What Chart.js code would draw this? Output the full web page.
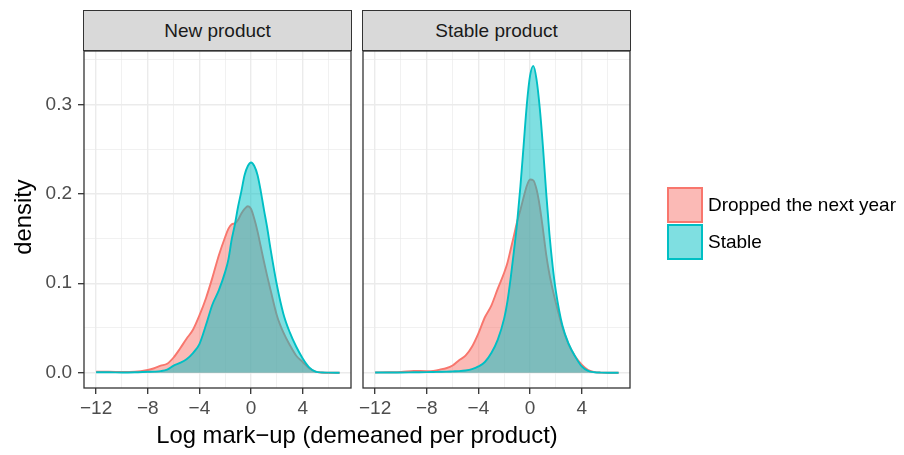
<!DOCTYPE html>
<html>
<head>
<meta charset="utf-8">
<script src="https://cdn.jsdelivr.net/npm/chart.js@4.4.1/dist/chart.umd.min.js"></script>
<style>
  body { margin:0; background:#fff; font-family:'Liberation Sans', Arial, sans-serif; }
  #wrap { position:relative; width:904px; height:455px; overflow:hidden; }
  canvas { position:absolute; left:0; top:0; }
  .strip { position:absolute; top:10px; height:41px; box-sizing:border-box; border:1.3px solid #333;
           background:#d9d9d9; color:#1a1a1a; font-size:19px; display:flex; align-items:center; justify-content:center; }
  .key { position:absolute; left:667px; width:36px; box-sizing:border-box; border:2px solid; }
  .ltxt { position:absolute; left:708px; font-size:19px; line-height:20px; color:#000; }
</style>
</head>
<body>
<div id="wrap">
  <canvas id="p1" width="904" height="455"></canvas>
  <canvas id="p2" width="904" height="455"></canvas>
  <div class="strip" style="left:83px;width:269px">New product</div>
  <div class="strip" style="left:362px;width:269px">Stable product</div>
  <div class="key" style="top:187px;height:36px;background:#fbbab6;border-color:#f8766d"></div>
  <div class="key" style="top:224px;height:36px;background:#7fdfe1;border-color:#00bfc4"></div>
  <div class="ltxt" style="top:195px">Dropped the next year</div>
  <div class="ltxt" style="top:232px">Stable</div>
  <div style="position:absolute;left:84px;width:546px;top:423px;text-align:center;font-size:23.8px;line-height:24px;color:#000">Log mark&minus;up (demeaned per product)</div>
  <div style="position:absolute;left:-27px;top:205px;width:100px;text-align:center;font-size:23.8px;line-height:24px;color:#000;transform:rotate(-90deg)">density</div>
</div>
<script>
Chart.defaults.font.family = "'Liberation Sans', Arial, sans-serif";

// categories / series
var groups = ['Dropped the next year', 'Stable'];
var tickLabelsX = [-12, -8, -4, 0, 4];
var tickLabelsY = [0.0, 0.1, 0.2, 0.3];

// New product panel
var newX = [-12, -11, -10, -9, -8, -7.5, -7, -6.5, -6, -5.5, -5, -4.5, -4, -3.5, -3, -2.5, -2, -1.75, -1.5, -1.25, -1,
  -0.75, -0.5, -0.25, 0, 0.25, 0.5, 0.75, 1, 1.25, 1.5, 2, 2.5, 3, 3.5, 4, 4.5, 5, 5.5, 6, 6.86];
var newDropped = [0.001, 0.001, 0.0008, 0.001, 0.003, 0.005, 0.0078, 0.010, 0.017, 0.027, 0.038, 0.048, 0.064, 0.083,
  0.106, 0.131, 0.152, 0.161, 0.166, 0.167, 0.171, 0.178, 0.183, 0.186, 0.183, 0.172, 0.158, 0.141, 0.124, 0.108,
  0.093, 0.064, 0.045, 0.031, 0.019, 0.012, 0.005, 0.0012, 0.0002, 0, 0];
var newStable = [0.0005, 0.0005, 0.0003, 0.0005, 0.001, 0.0012, 0.0018, 0.0035, 0.008, 0.011, 0.015, 0.022, 0.032,
  0.053, 0.076, 0.092, 0.113, 0.127, 0.149, 0.166, 0.186, 0.203, 0.221, 0.231, 0.235, 0.231, 0.221, 0.203, 0.182,
  0.162, 0.139, 0.098, 0.066, 0.045, 0.029, 0.016, 0.006, 0.0012, 0.0003, 0.0001, 0];

// Stable product panel
var stabX = [-12, -11, -10, -9, -8, -7.5, -7, -6.5, -6, -5.5, -5, -4.5, -4, -3.5, -3, -2.5, -2, -1.75, -1.5, -1.25, -1,
  -0.75, -0.5, -0.25, 0, 0.25, 0.5, 0.75, 1, 1.25, 1.5, 1.75, 2, 2.5, 3, 3.5, 4, 4.5, 5, 5.5, 6, 6.86];
var stabDropped = [0.0003, 0.0005, 0.0008, 0.002, 0.0018, 0.002, 0.0035, 0.005, 0.008, 0.014, 0.019, 0.029, 0.044,
  0.062, 0.075, 0.094, 0.112, 0.123, 0.138, 0.153, 0.169, 0.182, 0.196, 0.209, 0.216, 0.215, 0.205, 0.186, 0.16,
  0.132, 0.11, 0.093, 0.078, 0.051, 0.031, 0.018, 0.009, 0.003, 0.0006, 0.0001, 0, 0];
var stabStable = [0.0003, 0.0003, 0.0003, 0.0005, 0.0006, 0.0008, 0.001, 0.0012, 0.0015, 0.0018, 0.0025, 0.004, 0.007,
  0.012, 0.022, 0.037, 0.061, 0.08, 0.106, 0.136, 0.168, 0.208, 0.254, 0.3, 0.332, 0.343, 0.328, 0.296, 0.252,
  0.201, 0.155, 0.119, 0.091, 0.053, 0.032, 0.018, 0.007, 0.002, 0.0005, 0.0001, 0, 0];

var redLine = '#f8766d', redFill = 'rgba(248,118,109,0.5)';
var cyanLine = '#00bfc4', cyanFill = 'rgba(0,191,196,0.5)';

function pts(xs, ys) {
  return xs.map(function (x, i) { return { x: x, y: ys[i] }; });
}
function isMajorX(v) { return tickLabelsX.indexOf(v) >= 0; }
function isMajorY(v) { return tickLabelsY.some(function (t) { return Math.abs(t - v) < 1e-6; }); }

var panelBorder = {
  id: 'panelBorder',
  afterDraw: function (chart) {
    var a = chart.chartArea, c = chart.ctx;
    c.save();
    c.strokeStyle = '#333';
    c.lineWidth = 1.3;
    c.strokeRect(a.left, a.top, a.right - a.left, a.bottom - a.top);
    c.restore();
  }
};

function makePanel(id, xs, dropped, stable, yAxisWidth, rightPad, showY) {
  return new Chart(document.getElementById(id), {
    type: 'line',
    data: {
      datasets: [
        { label: groups[0], data: pts(xs, dropped), borderColor: redLine, backgroundColor: redFill,
          fill: 'origin', order: 2 },
        { label: groups[1], data: pts(xs, stable), borderColor: cyanLine, backgroundColor: cyanFill,
          fill: 'origin', order: 1 }
      ]
    },
    options: {
      responsive: false,
      animation: false,
      layout: { padding: { top: 51, right: rightPad, left: 0, bottom: 0 } },
      elements: {
        point: { radius: 0, hoverRadius: 0 },
        line: { borderWidth: 1.9, cubicInterpolationMode: 'monotone' }
      },
      plugins: { legend: { display: false }, tooltip: { enabled: false } },
      scales: {
        x: {
          type: 'linear', min: -12.94, max: 7.74,
          afterFit: function (s) { s.height = 67; },
          border: { display: false },
          grid: {
            color: '#ebebeb',
            lineWidth: function (c) { return isMajorX(c.tick.value) ? 1.4 : 0.7; },
            tickColor: function (c) { return isMajorX(c.tick.value) ? '#333' : 'rgba(0,0,0,0)'; },
            tickWidth: 1.3,
            tickLength: 6
          },
          ticks: {
            stepSize: 2, includeBounds: false, autoSkip: false, maxRotation: 0, padding: 3,
            color: '#4d4d4d', font: { size: 19 },
            callback: function (v) { return isMajorX(v) ? String(v).replace('-', '\u2212') : ''; }
          }
        },
        y: {
          type: 'linear', min: -0.0171, max: 0.3596,
          afterFit: function (s) { s.width = yAxisWidth; },
          border: { display: false },
          grid: {
            color: '#ebebeb',
            lineWidth: function (c) { return isMajorY(c.tick.value) ? 1.4 : 0.7; },
            tickColor: function (c) { return (showY && isMajorY(c.tick.value)) ? '#333' : 'rgba(0,0,0,0)'; },
            tickWidth: 1.3,
            tickLength: 6
          },
          ticks: {
            display: showY, stepSize: 0.05, includeBounds: false, autoSkip: false, padding: 6,
            color: '#4d4d4d', font: { size: 19 },
            callback: function (v) { return isMajorY(v) ? v.toFixed(1) : ''; }
          }
        }
      }
    },
    plugins: [panelBorder]
  });
}

makePanel('p1', newX, newDropped, newStable, 84, 553, true);
makePanel('p2', stabX, stabDropped, stabStable, 363, 274, false);
</script>
</body>
</html>
